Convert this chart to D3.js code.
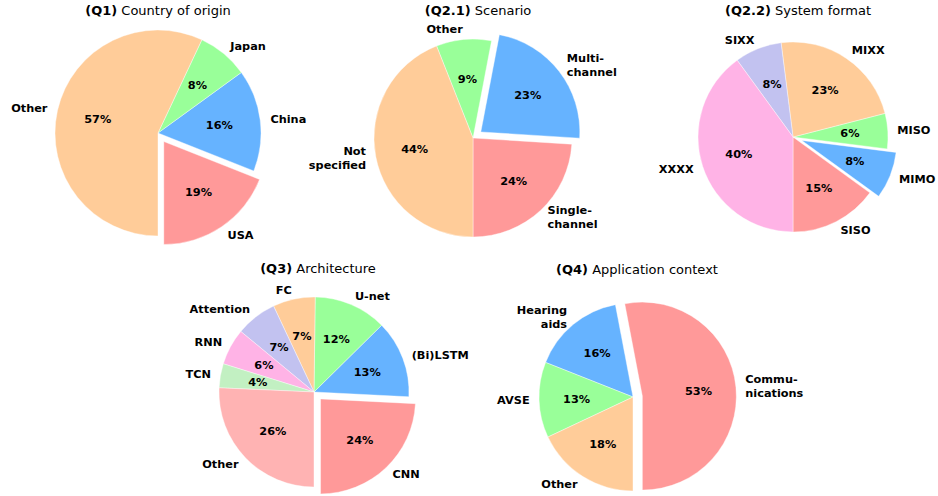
<!DOCTYPE html>
<html>
<head>
<meta charset="utf-8">
<script src="https://cdn.jsdelivr.net/npm/d3@7"></script>
<style>
  html, body { margin: 0; padding: 0; background: #fff; }
  svg { display: block; font-family: "DejaVu Sans", sans-serif; }
  .label, .pct { font-weight: bold; font-size: 11.3px; fill: #000; }
  .title { font-size: 13px; fill: #000; }
</style>
</head>
<body>
<div id="chart"></div>
<script>
// Q1 Country of origin
const q1Labels = ["USA", "China", "Japan", "Other"];
const q1Values = [19, 16, 8, 57];
// Q2.1 Scenario
const q21Labels = ["Single-\nchannel", "Multi-\nchannel", "Other", "Not\nspecified"];
const q21Values = [24, 23, 9, 44];
// Q2.2 System format
const q22Labels = ["SISO", "MIMO", "MISO", "MIXX", "SIXX", "XXXX"];
const q22Values = [15, 8, 6, 23, 8, 40];
// Q3 Architecture
const q3Labels = ["CNN", "(Bi)LSTM", "U-net", "FC", "Attention", "RNN", "TCN", "Other"];
const q3Values = [24.2, 13.2, 12.4, 7.2, 7.0, 6.2, 4.1, 25.7];
// Q4 Application context
const q4Labels = ["Commu-\nnications", "Hearing\naids", "AVSE", "Other"];
const q4Values = [53, 16, 13, 18];

const palette = ["#ff9999", "#66b3ff", "#99ff99", "#ffcc99", "#c2c2f0", "#ffb3e6", "#c2f0c2", "#ffb3b3"];

const width = 938, height = 496;

const charts = [
  { tag: "(Q1)", title: "Country of origin", labels: q1Labels, values: q1Values, explode: 0, cx: 158, cy: 133, r: 103, tx: 158, ty: 15 },
  { tag: "(Q2.1)", title: "Scenario", labels: q21Labels, values: q21Values, explode: 1, cx: 473, cy: 138, r: 99, tx: 478, ty: 15 },
  { tag: "(Q2.2)", title: "System format", labels: q22Labels, values: q22Values, explode: 1, cx: 793, cy: 137, r: 95, tx: 798, ty: 15 },
  { tag: "(Q3)", title: "Architecture", labels: q3Labels, values: q3Values, explode: 0, cx: 314, cy: 392, r: 95, tx: 318, ty: 273 },
  { tag: "(Q4)", title: "Application context", labels: q4Labels, values: q4Values, explode: 0, cx: 633, cy: 397, r: 94, tx: 637, ty: 274 },
];

const svg = d3.select("#chart").append("svg")
  .attr("width", width)
  .attr("height", height)
  .attr("viewBox", [0, 0, width, height]);

// start at 6 o'clock, go counter-clockwise (like matplotlib startangle=-90)
const pie = d3.pie().sort(null).value((d) => d.v).startAngle(Math.PI).endAngle(-Math.PI);
const pctFormat = (v, total) => `${Math.round((v / total) * 100)}%`;
const lineH = 1.2;
const unit = (a, k) => [Math.sin(a) * k, -Math.cos(a) * k];

charts.forEach((c) => {
  const total = d3.sum(c.values);
  const data = pie(c.values.map((v, i) => ({ v, i })));
  const arc = d3.arc().innerRadius(0).outerRadius(c.r);

  const g = svg.append("g").attr("transform", `translate(${c.cx},${c.cy})`);

  const slice = g.selectAll("g.slice")
    .data(data)
    .join("g")
    .attr("class", "slice")
    .attr("transform", (d) => {
      if (d.index !== c.explode) return null;
      const [dx, dy] = unit((d.startAngle + d.endAngle) / 2, 0.1 * c.r);
      return `translate(${dx},${dy})`;
    });

  slice.append("path")
    .attr("d", (d) => arc({ startAngle: Math.min(d.startAngle, d.endAngle), endAngle: Math.max(d.startAngle, d.endAngle) }))
    .attr("fill", (d) => palette[d.index])
    .attr("stroke", "#fff")
    .attr("stroke-width", 0.4);

  slice.append("text")
    .attr("class", "pct")
    .attr("text-anchor", "middle")
    .attr("transform", (d) => {
      const [x, y] = unit((d.startAngle + d.endAngle) / 2, 0.6 * c.r);
      return `translate(${x},${y})`;
    })
    .attr("dy", "0.34em")
    .text((d) => pctFormat(d.data.v, total));

  slice.append("text")
    .attr("class", "label")
    .each(function (d) {
      const mid = (d.startAngle + d.endAngle) / 2;
      const [x, y] = unit(mid, 1.1 * c.r);
      const lines = c.labels[d.index].split("\n");
      const t = d3.select(this)
        .attr("text-anchor", x >= 0 ? "start" : "end")
        .attr("transform", `translate(${x},${y})`);
      lines.forEach((ln, k) => {
        t.append("tspan")
          .attr("x", 0)
          .attr("y", 0)
          .attr("dy", `${(k - (lines.length - 1) / 2) * lineH + 0.34}em`)
          .text(ln);
      });
    });

  const title = svg.append("text")
    .attr("class", "title")
    .attr("text-anchor", "middle")
    .attr("x", c.tx)
    .attr("y", c.ty);
  title.append("tspan").attr("font-weight", "bold").text(c.tag);
  title.append("tspan").text(" " + c.title);
});
</script>
</body>
</html>
